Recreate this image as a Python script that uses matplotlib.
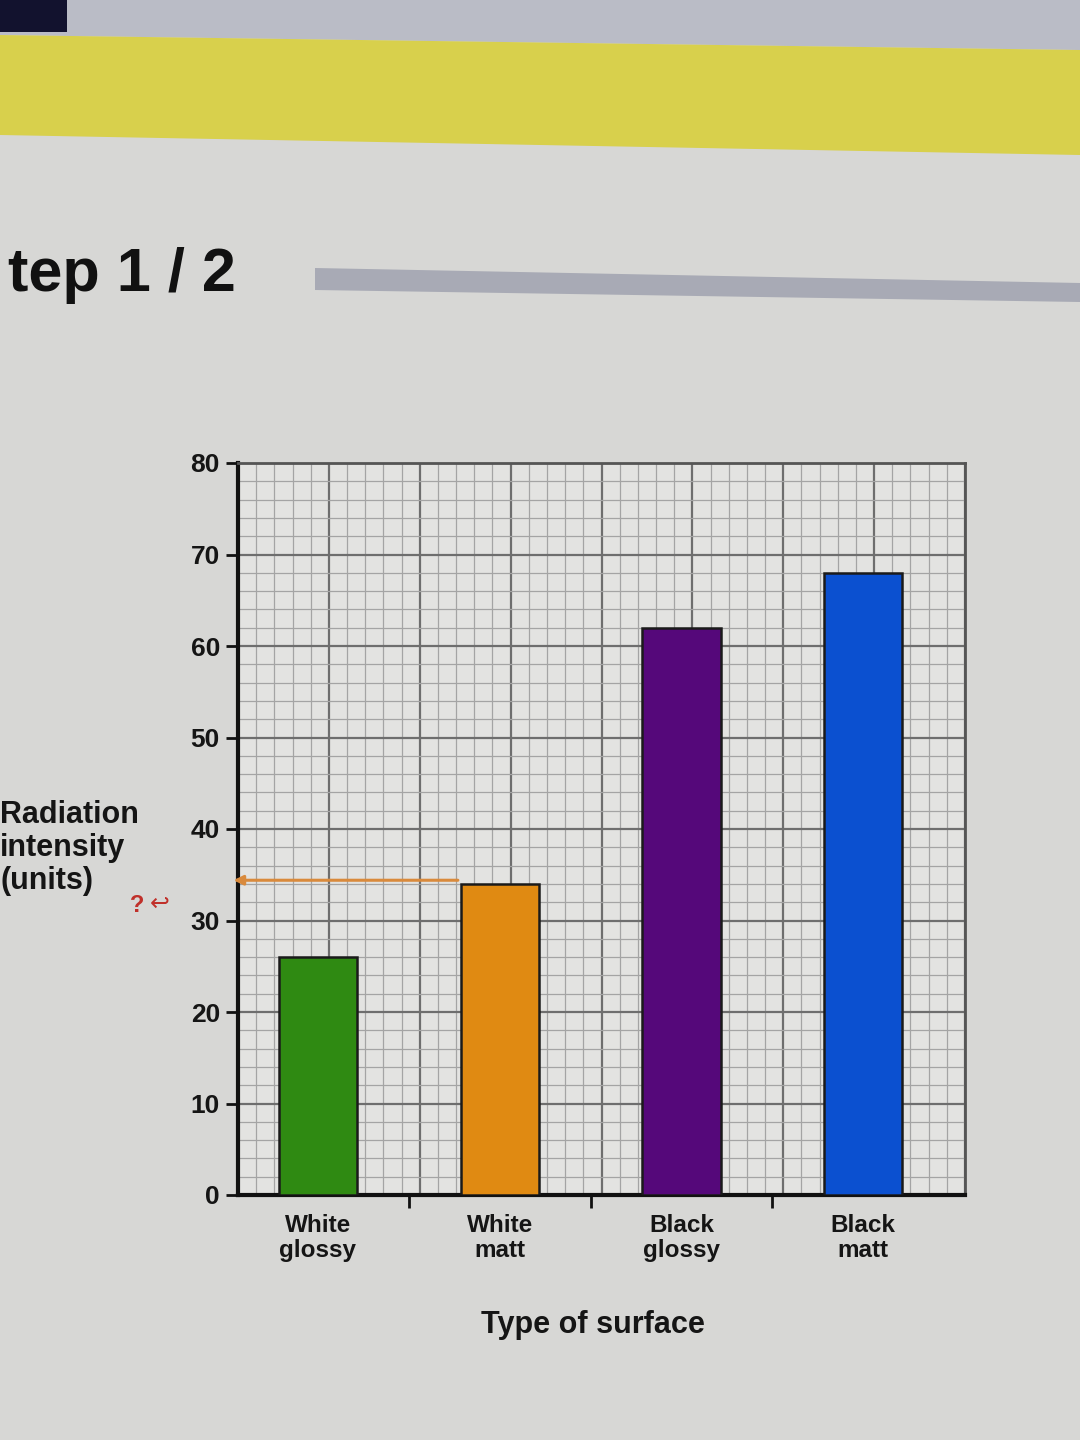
import numpy as np
import matplotlib
matplotlib.use("Agg")
import matplotlib.pyplot as plt
from matplotlib.patches import Polygon

# ---- data ----
categories = ["White\nglossy", "White\nmatt", "Black\nglossy", "Black\nmatt"]
values = [26, 34, 62, 68]
bar_colors = ["#2f8a12", "#e08a12", "#55087a", "#0b50d0"]
y_ticks = [0, 10, 20, 30, 40, 50, 60, 70, 80]
y_label = "Radiation\nintensity\n(units)"
x_label = "Type of surface"
step_text = "tep 1 / 2"
pointer_index = 1

plt.rcParams['font.family'] = ['Liberation Sans', 'DejaVu Sans']

fig = plt.figure(figsize=(10.8, 14.4), dpi=100)
fig.patch.set_facecolor('#d7d7d5')

H = 1440.0
W = 1080.0
def fy(p):
    return 1 - p / H

# header bands (screen decoration)
fig.add_artist(Polygon([(0, 1), (1, 1), (1, fy(50)), (0, fy(35))], closed=True,
                       transform=fig.transFigure, facecolor='#babcc6', edgecolor='none'))
fig.add_artist(Polygon([(0, 1), (67 / W, 1), (67 / W, fy(32)), (0, fy(32))], closed=True,
                       transform=fig.transFigure, facecolor='#12122e', edgecolor='none'))
fig.add_artist(Polygon([(0, fy(35)), (1, fy(50)), (1, fy(155)), (0, fy(135))], closed=True,
                       transform=fig.transFigure, facecolor='#d8d04c', edgecolor='none'))
fig.add_artist(Polygon([(315 / W, fy(268)), (1, fy(283)), (1, fy(302)), (315 / W, fy(290))],
                       closed=True, transform=fig.transFigure, facecolor='#a8aab5', edgecolor='none'))
fig.text(236 / W, fy(275), step_text, ha='right', va='center', fontsize=44,
         fontweight='bold', color='#111111')

# chart axes
ax = fig.add_axes([238 / W, fy(1195), (965 - 238) / W, (1195 - 463) / H])
ax.set_facecolor('#e3e3e1')
ax.set_xlim(-0.44, 3.56)
ax.set_ylim(0, 80)

# graph-paper grid in axes fraction
for k in range(41):
    xf = k / 40
    major = (k % 5 == 0)
    ax.plot([xf, xf], [0, 1], transform=ax.transAxes,
            color='#6e6e6e' if major else '#a4a4a4', lw=1.6 if major else 0.9, zorder=1)
for k in range(41):
    yf = k / 40
    major = (k % 5 == 0)
    ax.plot([0, 1], [yf, yf], transform=ax.transAxes,
            color='#6e6e6e' if major else '#a4a4a4', lw=1.6 if major else 0.9, zorder=1)

x = np.arange(len(categories))
ax.bar(x, values, width=0.43, color=bar_colors, edgecolor='#1a1a1a', linewidth=1.8, zorder=3)

# orange reading arrow
ax.annotate('', xy=(ax.get_xlim()[0] - 0.04, values[pointer_index] + 0.4),
            xytext=(x[pointer_index] - 0.215, values[pointer_index] + 0.4),
            arrowprops=dict(arrowstyle='-|>', color='#d98a3c', lw=2.2, mutation_scale=14),
            zorder=4, annotation_clip=False)

# spines
for s in ['left', 'bottom']:
    ax.spines[s].set_color('#111111')
    ax.spines[s].set_linewidth(3)
for s in ['top', 'right']:
    ax.spines[s].set_color('#555555')
    ax.spines[s].set_linewidth(2)

ax.set_yticks(y_ticks)
ax.set_yticklabels([str(v) for v in y_ticks], fontsize=19, fontweight='bold', color='#151515')
ax.tick_params(axis='y', direction='out', length=9, width=2, color='#111111', pad=4)

ax.set_xticks(x)
ax.set_xticklabels(categories, fontsize=17.5, fontweight='bold', color='#151515', linespacing=1.1)
ax.tick_params(axis='x', which='major', length=0, pad=14)
ax.set_xticks(x[:-1] + 0.5, minor=True)
ax.tick_params(axis='x', which='minor', direction='out', length=9, width=2, color='#111111')

ax.set_xlabel(x_label, fontsize=22, fontweight='bold', color='#151515')
ax.xaxis.set_label_coords(0.488, -0.157)
ax.set_ylabel(y_label, fontsize=22, fontweight='bold', color='#151515', rotation=0,
              ha='left', va='center', linespacing=1.15)
ax.yaxis.set_label_coords(-0.327, 0.474)

# handwritten red note
fig.text(130 / W, fy(906), "?", fontsize=17, fontweight='bold', color='#c0302a',
         ha='left', va='center')
fig.text(150 / W, fy(904), "\u21a9", fontsize=17, color='#c0302a', ha='left', va='center',
         family=['DejaVu Sans'])

fig.savefig("out.png", dpi=100, facecolor=fig.get_facecolor())
